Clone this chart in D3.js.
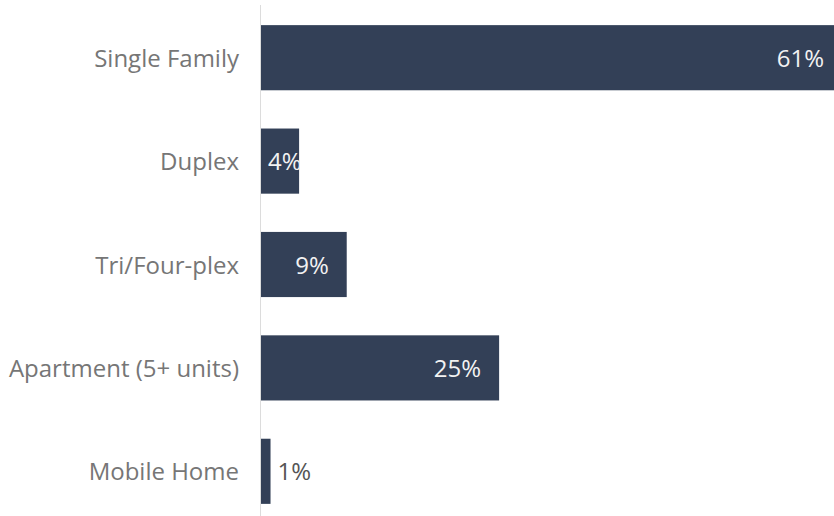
<!DOCTYPE html>
<html>
<head>
<meta charset="utf-8">
<script src="https://cdn.jsdelivr.net/npm/d3@7"></script>
<style>
  html, body { margin: 0; padding: 0; background: #ffffff; overflow: hidden; }
  svg { display: block; }
</style>
</head>
<body>
<script>
// Housing type shares (percent of units)
const categories = ["Single Family", "Duplex", "Tri/Four-plex", "Apartment (5+ units)", "Mobile Home"];
const values = [61, 4, 9, 25, 1];
const valueLabels = ["61%", "4%", "9%", "25%", "1%"];

const W = 834, H = 516;
const barColor = "#334057";
const fontFamily = "'Open Sans', 'Noto Sans', sans-serif";
const fontSize = 24;

const svg = d3.select("body").append("svg")
  .attr("width", W).attr("height", H);

const x = d3.scaleLinear().domain([0, 61]).range([261, 842]);
const y = d3.scaleBand().domain(categories).range([6, 523])
  .paddingInner(0.37).paddingOuter(0.185);

// zero line
svg.append("line")
  .attr("x1", 260.5).attr("x2", 260.5)
  .attr("y1", 5).attr("y2", H)
  .attr("stroke", "#dcdcdc").attr("stroke-width", 1);

const rows = categories.map((c, i) => ({ cat: c, value: values[i], label: valueLabels[i], i }));

const defs = svg.append("defs");
defs.selectAll("clipPath").data(rows).join("clipPath")
  .attr("id", d => "clip-" + d.i)
  .append("rect")
  .attr("x", x(0)).attr("y", d => y(d.cat))
  .attr("width", d => x(d.value) - x(0)).attr("height", y.bandwidth());

// bars
svg.append("g").selectAll("rect").data(rows).join("rect")
  .attr("x", x(0))
  .attr("y", d => y(d.cat))
  .attr("width", d => x(d.value) - x(0))
  .attr("height", y.bandwidth())
  .attr("fill", barColor);

// category labels
svg.append("g").selectAll("text").data(rows).join("text")
  .attr("x", 239)
  .attr("y", d => y(d.cat) + y.bandwidth() / 2)
  .attr("dy", "0.38em")
  .attr("text-anchor", "end")
  .attr("font-family", fontFamily)
  .attr("font-size", fontSize)
  .attr("fill", "#767676")
  .text(d => d.cat);

// value labels: inside the bar when it is wide enough, otherwise just past its end
const vg = svg.append("g");
rows.forEach(d => {
  const x0 = x(0), x1 = x(d.value);
  const t = vg.append("text")
    .attr("y", y(d.cat) + y.bandwidth() / 2)
    .attr("dy", "0.38em")
    .attr("font-family", fontFamily)
    .attr("font-size", fontSize)
    .text(d.label);
  const w = t.node().getComputedTextLength();
  if (x1 - x0 < 20) {
    t.attr("x", x1 + 7).attr("text-anchor", "start").attr("fill", "#555555");
  } else {
    const right = Math.max(x1 - 18, x0 + 7 + w);
    t.attr("x", right).attr("text-anchor", "end").attr("fill", "#f2f2f2")
      .attr("clip-path", `url(#clip-${d.i})`);
  }
});
</script>
</body>
</html>
